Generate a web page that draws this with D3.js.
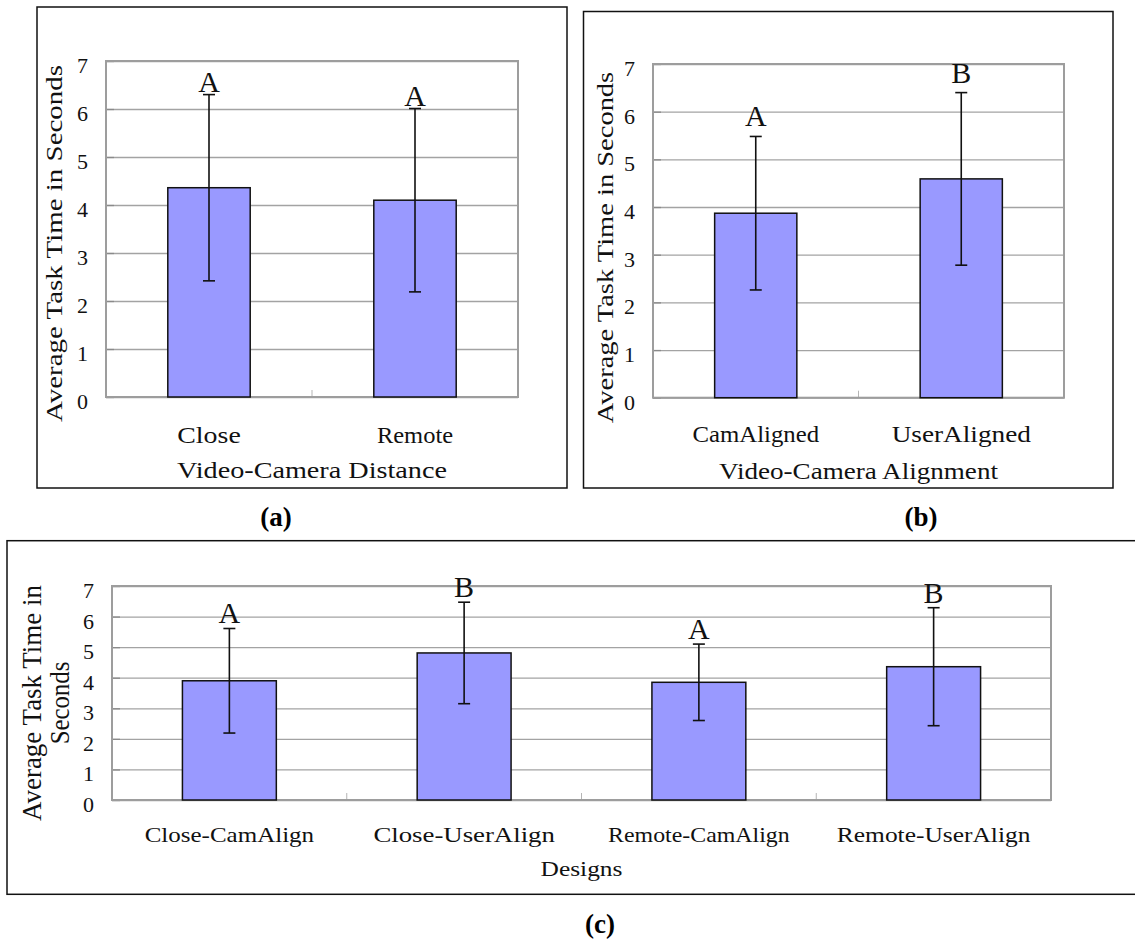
<!DOCTYPE html>
<html>
<head>
<meta charset="utf-8">
<script src="https://cdn.jsdelivr.net/npm/d3@7"></script>
<style>
  html, body { margin: 0; padding: 0; background: #fff; }
  svg { display: block; }
  .serif { font-family: "Liberation Serif", "Times New Roman", serif; }
</style>
</head>
<body>
<script>
// ---- data ----------------------------------------------------------
const yTickValues = [0, 1, 2, 3, 4, 5, 6, 7];

const distanceCategories = ["Close", "Remote"];
const distanceMeans = [4.36, 4.10];
const distanceErrors = [1.94, 1.91];
const distanceGroups = ["A", "A"];

const alignCategories = ["CamAligned", "UserAligned"];
const alignMeans = [3.87, 4.59];
const alignErrors = [1.61, 1.81];
const alignGroups = ["A", "B"];

const designCategories = ["Close-CamAlign", "Close-UserAlign", "Remote-CamAlign", "Remote-UserAlign"];
const designMeans = [3.90, 4.81, 3.85, 4.36];
const designErrors = [1.71, 1.66, 1.25, 1.93];
const designGroups = ["A", "B", "A", "B"];

// ---- layout ----------------------------------------------------------
const W = 1135, H = 939;

const svg = d3.select("body").append("svg")
  .attr("width", W).attr("height", H);

const panels = [
  {
    cats: distanceCategories, means: distanceMeans, errs: distanceErrors, groups: distanceGroups,
    frame: { x0: 37, y0: 7, x1: 567, y1: 488 },
    plot: { left: 106, right: 518, top: 61, bottom: 397 },
    yTitle: { lines: ["Average Task Time in Seconds"], baselines: [61.5], cy: 243.5, size: 23, charW: 12.75 },
    xLabel: { baseline: 442.5, size: 23, charW: 12.7 },
    xTitle: { text: "Video-Camera Distance", baseline: 478, size: 23, charW: 12.85 },
    letterGap: 3,
    caption: { text: "(a)", x: 276, y: 526 }
  },
  {
    cats: alignCategories, means: alignMeans, errs: alignErrors, groups: alignGroups,
    frame: { x0: 583.5, y0: 11.5, x1: 1113, y1: 488 },
    plot: { left: 653, right: 1064, top: 64, bottom: 397.7 },
    yTitle: { lines: ["Average Task Time in Seconds"], baselines: [613], cy: 247.5, size: 23, charW: 12.55 },
    xLabel: { baseline: 442.5, size: 23, charW: 12.66 },
    xTitle: { text: "Video-Camera Alignment", baseline: 479, size: 23, charW: 12.68 },
    letterGap: 10,
    caption: { text: "(b)", x: 921, y: 526 }
  },
  {
    cats: designCategories, means: designMeans, errs: designErrors, groups: designGroups,
    frame: { x0: 7, y0: 540.7, x1: 1145, y1: 894.3 },
    plot: { left: 112, right: 1051, top: 586, bottom: 800 },
    yTitle: { lines: ["Average Task Time in", "Seconds"], baselines: [41, 69], cy: 703, size: 28, charW: 11.8 },
    xLabel: { baseline: 841.5, size: 22, charW: 12.1 },
    xTitle: { text: "Designs", baseline: 876, size: 22, charW: 11.7 },
    letterGap: 5,
    caption: { text: "(c)", x: 600, y: 933 }
  }
];

panels.forEach(drawPanel);

function drawPanel(p) {
  const g = svg.append("g");
  const { left, right, top, bottom } = p.plot;
  const w = right - left;

  // outer frame
  g.append("rect")
    .attr("x", p.frame.x0).attr("y", p.frame.y0)
    .attr("width", p.frame.x1 - p.frame.x0).attr("height", p.frame.y1 - p.frame.y0)
    .attr("fill", "none").attr("stroke", "#111").attr("stroke-width", 1.5);

  const y = d3.scaleLinear().domain([0, 7]).range([bottom, top]);
  const x = d3.scaleBand().domain(p.cats).range([left, right])
    .paddingInner(0.6).paddingOuter(0.3);

  // horizontal gridlines
  const grid = g.append("g").attr("transform", `translate(${left},0)`)
    .call(d3.axisLeft(y).tickValues(yTickValues).tickSize(-w).tickFormat(""));
  grid.select(".domain").remove();
  grid.selectAll("line").attr("stroke", "#a3a3a3").attr("stroke-width", 1.3);

  // short inner tick marks on the value axis
  const inner = g.append("g").attr("transform", `translate(${left},0)`)
    .call(d3.axisLeft(y).tickValues(yTickValues).tickSize(-8).tickFormat(""));
  inner.select(".domain").remove();
  inner.selectAll("line").attr("stroke", "#8a8a8a").attr("stroke-width", 1.3);

  // category separators at the base
  const gapHalf = (x.step() - x.bandwidth()) / 2;
  g.selectAll(".sep").data(p.cats.slice(1)).join("line")
    .attr("x1", d => x(d) - gapHalf).attr("x2", d => x(d) - gapHalf)
    .attr("y1", bottom).attr("y2", bottom - 7)
    .attr("stroke", "#b5b5b5").attr("stroke-width", 1);

  // plot area border
  g.append("rect")
    .attr("x", left).attr("y", top).attr("width", w).attr("height", bottom - top)
    .attr("fill", "none").attr("stroke", "#9d9d9d").attr("stroke-width", 2);

  // value axis labels
  const yLab = g.append("g").attr("transform", `translate(${left},0)`)
    .call(d3.axisLeft(y).tickValues(yTickValues).tickSize(0).tickPadding(18).tickFormat(d3.format("d")));
  yLab.attr("font-family", null).attr("font-size", null);
  yLab.select(".domain").remove();
  yLab.selectAll("text")
    .attr("class", "serif")
    .attr("dy", "0.52em")
    .style("font-size", "22px")
    .attr("fill", "#111");

  const rows = p.cats.map((c, i) => ({ cat: c, mean: p.means[i], err: p.errs[i], grp: p.groups[i] }));

  // bars
  g.selectAll(".bar").data(rows).join("rect")
    .attr("x", d => x(d.cat)).attr("y", d => y(d.mean))
    .attr("width", x.bandwidth()).attr("height", d => y(0) - y(d.mean))
    .attr("fill", "#9999ff").attr("stroke", "#111").attr("stroke-width", 1.5);

  // error bars
  const cx = d => x(d.cat) + x.bandwidth() / 2;
  const eb = g.selectAll(".err").data(rows).join("g");
  eb.append("line")
    .attr("x1", cx).attr("x2", cx)
    .attr("y1", d => y(d.mean + d.err)).attr("y2", d => y(d.mean - d.err));
  eb.append("line")
    .attr("x1", d => cx(d) - 6).attr("x2", d => cx(d) + 6)
    .attr("y1", d => y(d.mean + d.err)).attr("y2", d => y(d.mean + d.err));
  eb.append("line")
    .attr("x1", d => cx(d) - 6).attr("x2", d => cx(d) + 6)
    .attr("y1", d => y(d.mean - d.err)).attr("y2", d => y(d.mean - d.err));
  eb.selectAll("line").attr("stroke", "#111").attr("stroke-width", 1.6);

  // significance group letters
  g.selectAll(".grp").data(rows).join("text")
    .attr("class", "serif")
    .attr("x", cx).attr("y", d => y(d.mean + d.err) - p.letterGap)
    .attr("text-anchor", "middle")
    .style("font-size", "30px").attr("fill", "#111")
    .text(d => d.grp);

  // category labels
  const xAx = g.append("g").attr("transform", `translate(0,${bottom})`)
    .call(d3.axisBottom(x).tickSize(0));
  xAx.attr("font-family", null).attr("font-size", null);
  xAx.select(".domain").remove();
  xAx.selectAll("text")
    .attr("class", "serif")
    .attr("y", p.xLabel.baseline - bottom).attr("dy", null)
    .attr("fill", "#111")
    .style("font-size", p.xLabel.size + "px")
    .attr("textLength", d => d.length * p.xLabel.charW)
    .attr("lengthAdjust", "spacingAndGlyphs");

  // category axis title
  g.append("text")
    .attr("class", "serif")
    .attr("x", (left + right) / 2).attr("y", p.xTitle.baseline)
    .attr("text-anchor", "middle").attr("fill", "#111")
    .attr("textLength", p.xTitle.text.length * p.xTitle.charW)
    .attr("lengthAdjust", "spacingAndGlyphs")
    .style("font-size", p.xTitle.size + "px")
    .text(p.xTitle.text);

  // value axis title (rotated)
  p.yTitle.lines.forEach((line, i) => {
    g.append("text")
      .attr("class", "serif")
      .attr("transform", `translate(${p.yTitle.baselines[i]},${p.yTitle.cy}) rotate(-90)`)
      .attr("text-anchor", "middle").attr("fill", "#111")
      .attr("textLength", line.length * p.yTitle.charW)
      .attr("lengthAdjust", "spacingAndGlyphs")
      .style("font-size", p.yTitle.size + "px")
      .text(line);
  });

  // panel caption
  svg.append("text")
    .attr("class", "serif")
    .attr("x", p.caption.x).attr("y", p.caption.y)
    .attr("text-anchor", "middle").attr("fill", "#000")
    .style("font-size", "27px").style("font-weight", "bold")
    .text(p.caption.text);
}
</script>
</body>
</html>
